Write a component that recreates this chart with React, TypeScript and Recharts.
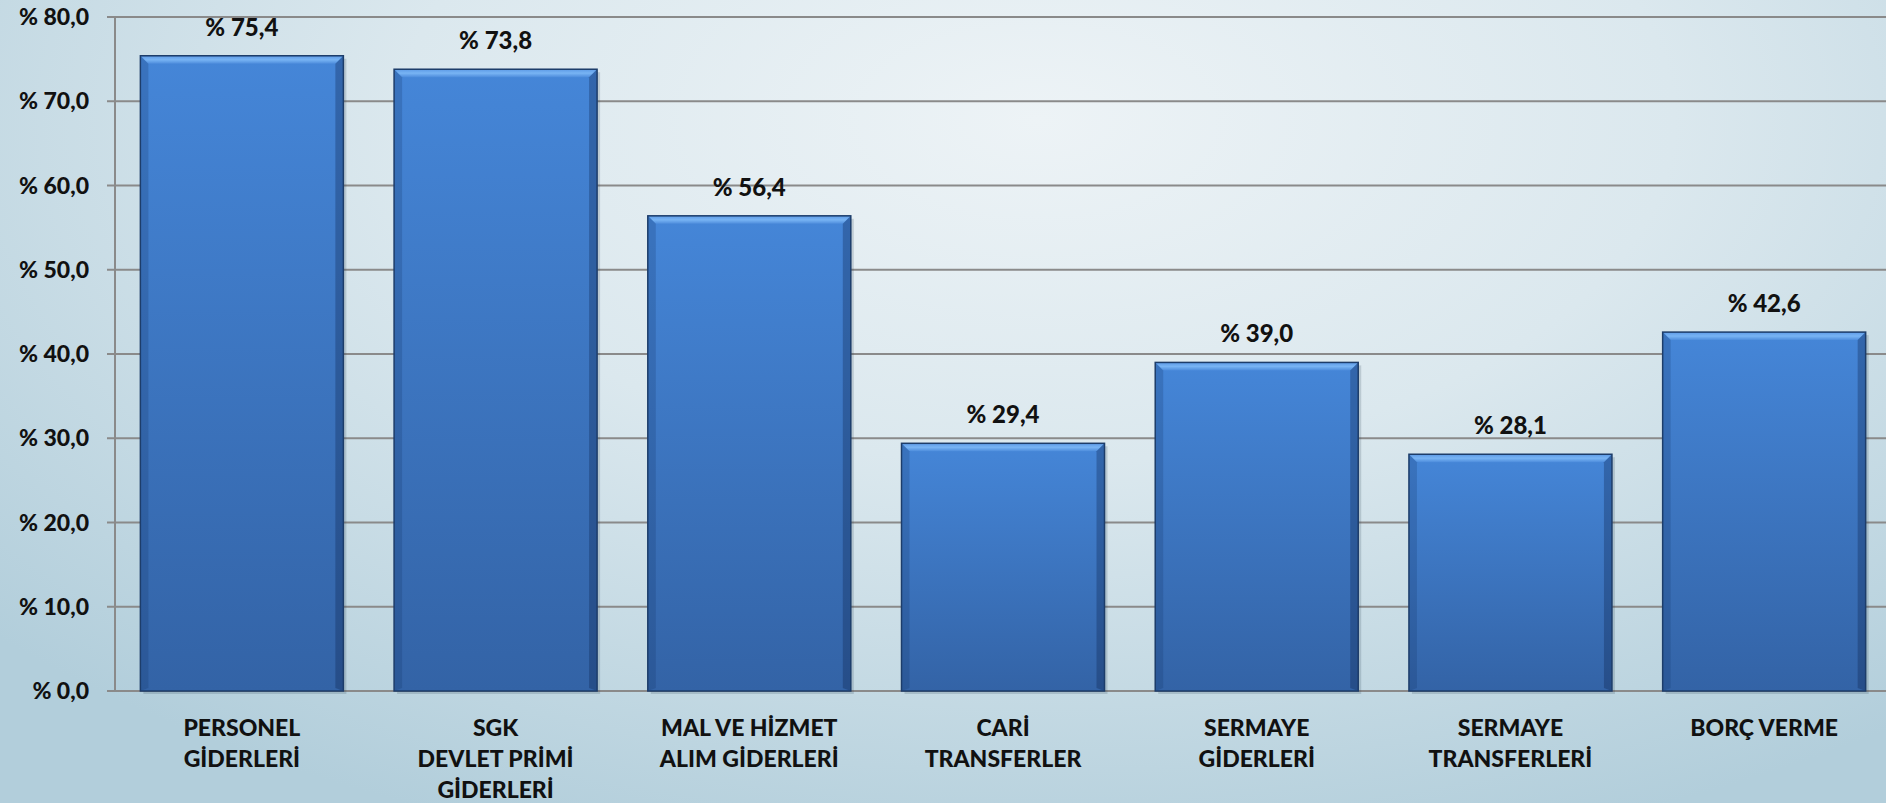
import React from 'react';
import { BarChart, Bar, XAxis, YAxis, CartesianGrid, LabelList } from 'recharts';

const categories = [
  'PERSONEL\nGİDERLERİ',
  'SGK\nDEVLET PRİMİ\nGİDERLERİ',
  'MAL VE HİZMET\nALIM GİDERLERİ',
  'CARİ\nTRANSFERLER',
  'SERMAYE\nGİDERLERİ',
  'SERMAYE\nTRANSFERLERİ',
  'BORÇ VERME',
];
const values = [75.4, 73.8, 56.4, 29.4, 39.0, 28.1, 42.6];
const yTicks = [0, 10, 20, 30, 40, 50, 60, 70, 80];
const edgeTicks = [0, 1, 2, 3, 4, 5, 6, 7];

const data = categories.map((c, i) => ({ name: c, value: values[i] }));

const FONT = 'Lato, "Liberation Sans", sans-serif';
const fmt = (v: number) => `% ${v.toFixed(1).replace('.', ',')}`;

const BevelBar = (props: any) => {
  const { x, y, width, height } = props;
  if (!height || height <= 0) return null;
  const b = 8;
  return (
    <g>
      <rect x={x + 3} y={y + 3} width={width} height={height} fill="rgba(40,60,80,0.18)" />
      <rect x={x} y={y} width={width} height={height} fill="url(#barGrad)" />
      <polygon points={`${x},${y} ${x + width},${y} ${x + width - b},${y + b} ${x + b},${y + b}`} fill="url(#topBevel)" />
      <polygon points={`${x},${y} ${x + b},${y + b} ${x + b},${y + height - 3} ${x},${y + height}`} fill="rgba(20,50,100,0.22)" />
      <polygon points={`${x + width},${y} ${x + width - b},${y + b} ${x + width - b},${y + height - 3} ${x + width},${y + height}`} fill="rgba(10,30,70,0.3)" />
      <rect x={x} y={y} width={width} height={height} fill="none" stroke="#1d3d6a" strokeWidth={1.5} />
    </g>
  );
};

const ValueLabel = (props: any) => {
  const { x, y, width, value } = props;
  return (
    <text x={x + width / 2} y={y - 20} textAnchor="middle" fontFamily={FONT} fontWeight={900} fontSize={24} fill="#111">
      {fmt(Number(value))}
    </text>
  );
};

const CatTick = (props: any) => {
  const { x, y, payload } = props;
  const lines = String(payload.value).split('\n');
  return (
    <text x={x} y={y} textAnchor="middle" fontFamily={FONT} fontWeight={900} fontSize={23} fill="#111">
      {lines.map((l, i) => (
        <tspan key={i} x={x} y={y + 37 + i * 31}>{l}</tspan>
      ))}
    </text>
  );
};

const YTick = (props: any) => {
  const { x, y, payload } = props;
  return (
    <text x={x} y={y + 8} textAnchor="end" fontFamily={FONT} fontWeight={900} fontSize={23} fill="#111">
      {fmt(Number(payload.value))}
    </text>
  );
};

export default function App() {
  return (
    <div
      style={{
        position: 'absolute',
        left: 0,
        top: 0,
        width: 1886,
        height: 803,
        background: 'radial-gradient(ellipse 75% 95% at 55% 15%, #edf3f6 0%, #dbe8ee 45%, #b2cedb 100%)',
        overflow: 'hidden',
      }}
    >
      <BarChart width={1886} height={803} data={data} margin={{ top: 17, right: -5, bottom: 0, left: 0 }} barCategoryGap="10%">
        <defs>
          <linearGradient id="barGrad" x1="0" y1="0" x2="0" y2="1">
            <stop offset="0%" stopColor="#4586d8" />
            <stop offset="100%" stopColor="#3363a6" />
          </linearGradient>
          <linearGradient id="topBevel" x1="0" y1="0" x2="0" y2="1">
            <stop offset="0%" stopColor="#5d9ae6" />
            <stop offset="50%" stopColor="#78b4f4" />
            <stop offset="100%" stopColor="#4d8cdc" />
          </linearGradient>
        </defs>
        <CartesianGrid vertical={false} stroke="#8a8a8a" strokeWidth={2} />
        <XAxis
          xAxisId="edges"
          type="number"
          domain={[0, 7]}
          ticks={edgeTicks}
          height={0}
          tick={false}
          tickLine={{ stroke: '#8a8a8a', strokeWidth: 2 }}
          tickSize={8}
          axisLine={{ stroke: '#8a8a8a', strokeWidth: 2 }}
          allowDataOverflow
        />
        <XAxis dataKey="name" interval={0} tickLine={false} axisLine={false} height={112} tick={<CatTick />} />
        <YAxis
          domain={[0, 80]}
          ticks={yTicks}
          width={115}
          tickSize={8}
          tickMargin={18}
          interval={0}
          tick={<YTick />}
          tickLine={{ stroke: '#8a8a8a', strokeWidth: 2 }}
          axisLine={{ stroke: '#8a8a8a', strokeWidth: 2 }}
        />
        <Bar dataKey="value" shape={<BevelBar />} isAnimationActive={false}>
          <LabelList dataKey="value" content={<ValueLabel />} />
        </Bar>
      </BarChart>
    </div>
  );
}
